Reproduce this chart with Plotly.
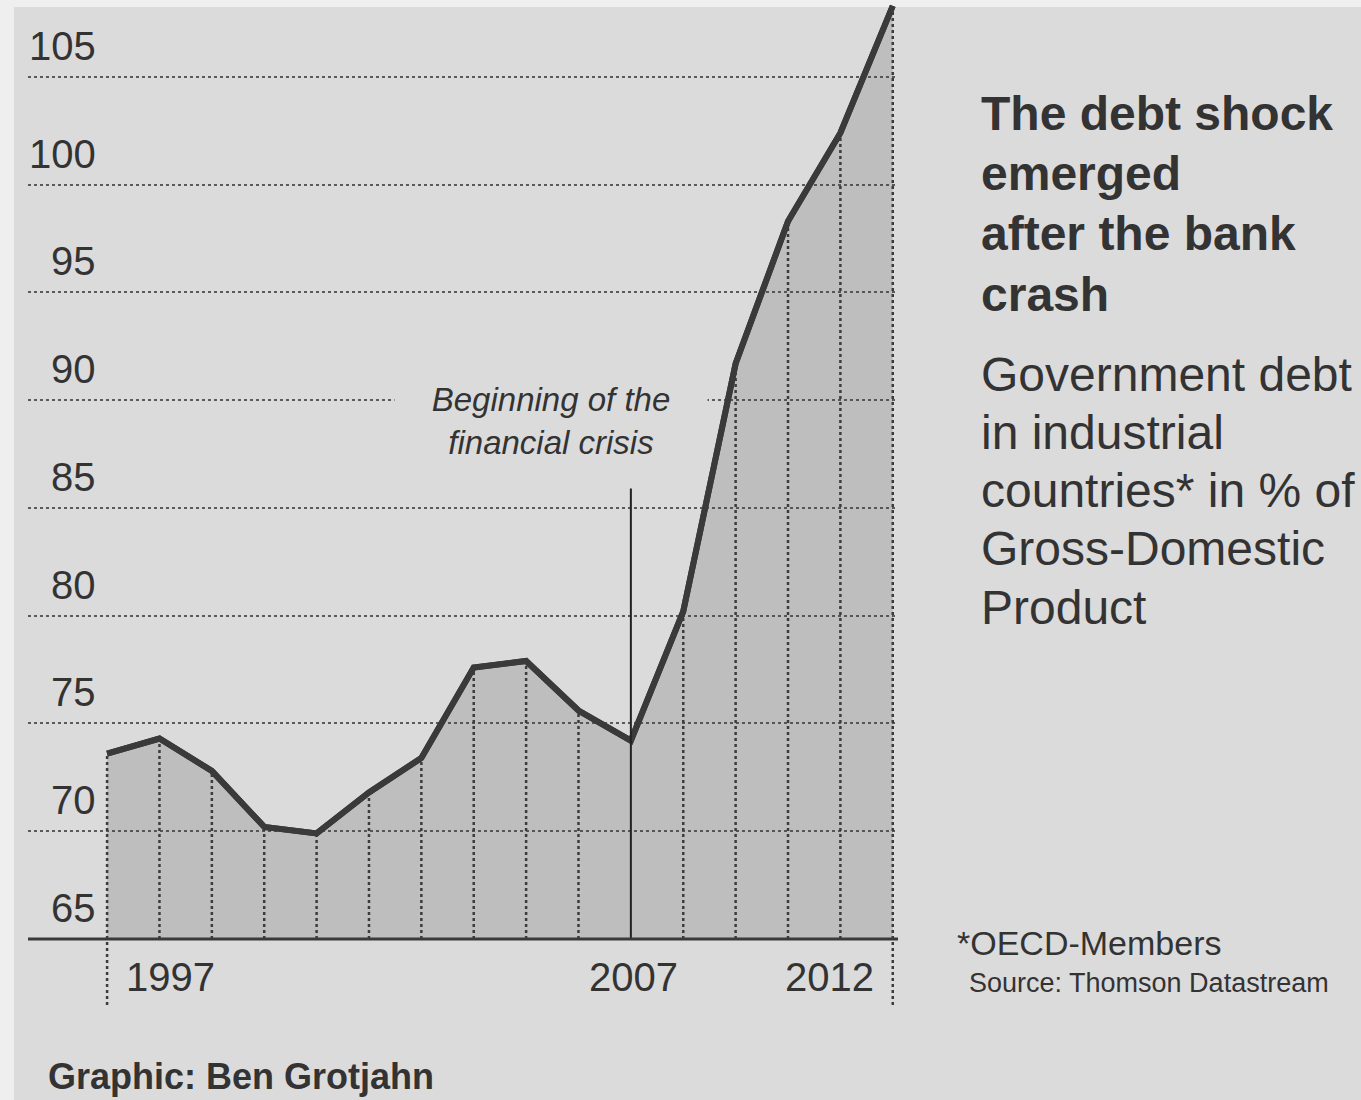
import plotly.graph_objects as go

# ---------------- data ----------------
years = list(range(1997, 2013))
debt = [73.6, 74.3, 72.8, 70.2, 69.9, 71.8, 73.4, 77.6, 77.9, 75.6,
        74.2, 80.2, 91.7, 98.3, 102.4, 108.3]
y_ticks = [65, 70, 75, 80, 85, 90, 95, 100, 105]
x_labels = [1997, 2007, 2012]
crisis_year = 2007
crisis_marker_top = 85.9

title_lines = ["The debt shock", "emerged", "after the bank", "crash"]
subtitle_lines = ["Government debt", "in industrial", "countries* in % of",
                  "Gross-Domestic", "Product"]
footnote = "*OECD-Members"
source = "Source: Thomson Datastream"
credit = "Graphic: Ben Grotjahn"
crisis_text = "Beginning of the<br>financial crisis"

# ---------------- layout geometry ----------------
W, H = 1361, 1100
ML, MR, MT, MB = 28, 463, 0, 90
PW, PH = W - ML - MR, H - MT - MB
X_RANGE = [1995.49, 2012.1]
Y_RANGE = [61.705, 108.57]
BASE = 65
EXT_BOTTOM = 61.94

FONT = "Liberation Sans, Arial, Helvetica, sans-serif"
INK = "#333333"
PAPER = "#dcdbdc"


def px_x(p):
    return (p - ML) / PW


def px_y(p):
    return 1 - (p - MT) / PH


fig = go.Figure()

# paper sheet
fig.add_shape(type="rect", xref="paper", yref="paper",
              x0=px_x(14), x1=px_x(W + 5), y0=px_y(H + 5), y1=px_y(7),
              fillcolor=PAPER, line_width=0, layer="below")

# baseline for filling
fig.add_trace(go.Scatter(x=years, y=[BASE] * len(years), mode="lines",
                         line=dict(width=0, color="rgba(0,0,0,0)"),
                         hoverinfo="skip", showlegend=False))
# filled area + line
fig.add_trace(go.Scatter(x=years, y=debt, mode="lines", fill="tonexty",
                         fillcolor="rgba(70,70,70,0.19)",
                         line=dict(color="#3a3a3a", width=6),
                         showlegend=False))

# vertical dotted lines under the curve
for i, (yr, v) in enumerate(zip(years, debt)):
    if yr == crisis_year:
        continue
    y0 = EXT_BOTTOM if i in (0, len(years) - 1) else BASE
    fig.add_trace(go.Scatter(x=[yr, yr], y=[y0, v], mode="lines",
                             line=dict(color="#3c3c3c", width=2.5, dash="dot"),
                             hoverinfo="skip", showlegend=False))

# data line again on top of the dotted verticals
fig.add_trace(go.Scatter(x=years, y=debt, mode="lines",
                         line=dict(color="#3a3a3a", width=6),
                         hoverinfo="skip", showlegend=False))

# crisis marker line
fig.add_shape(type="line", xref="x", yref="y", x0=crisis_year, x1=crisis_year,
              y0=BASE, y1=crisis_marker_top,
              line=dict(color="#222222", width=2))

# axis baseline
fig.add_shape(type="line", xref="paper", yref="y", x0=0, x1=1, y0=BASE, y1=BASE,
              line=dict(color="#3a3a3a", width=3))

annotations = []

# y tick labels (above grid lines)
for t in y_ticks:
    annotations.append(dict(x=px_x(98), xref="paper", y=t, yref="y",
                            text=str(t), showarrow=False, xanchor="right",
                            yanchor="middle", yshift=31,
                            font=dict(family=FONT, size=40, color=INK)))

# x labels
for yr in x_labels:
    if yr == years[0]:
        anchor, shift = "left", 17
    elif yr == years[-1]:
        anchor, shift = "right", -17
    else:
        anchor, shift = "center", 3
    annotations.append(dict(x=yr, xref="x", y=BASE, yref="y", text=str(yr),
                            showarrow=False, xanchor=anchor, xshift=shift,
                            yanchor="middle", yshift=-38,
                            font=dict(family=FONT, size=40, color=INK)))

# crisis annotation
annotations.append(dict(x=px_x(551), xref="paper", y=px_y(421), yref="paper",
                        text="<i>" + crisis_text + "</i>", showarrow=False,
                        xanchor="center", yanchor="middle", align="center",
                        width=304, borderpad=4, bgcolor=PAPER,
                        font=dict(family=FONT, size=33, color=INK)))

# title lines
for i, line in enumerate(title_lines):
    annotations.append(dict(x=px_x(979), xref="paper", y=px_y(114 + i * 60),
                            yref="paper", text="<b>" + line + "</b>",
                            showarrow=False, xanchor="left", yanchor="middle",
                            font=dict(family=FONT, size=48, color=INK)))

# subtitle lines
for i, line in enumerate(subtitle_lines):
    annotations.append(dict(x=px_x(979), xref="paper", y=px_y(374 + i * 58.3),
                            yref="paper", text=line,
                            showarrow=False, xanchor="left", yanchor="middle",
                            font=dict(family=FONT, size=48, color=INK)))

annotations.append(dict(x=px_x(955), xref="paper", y=px_y(943), yref="paper",
                        text=footnote, showarrow=False, xanchor="left",
                        yanchor="middle",
                        font=dict(family=FONT, size=34, color=INK)))
annotations.append(dict(x=px_x(967), xref="paper", y=px_y(983), yref="paper",
                        text=source, showarrow=False, xanchor="left",
                        yanchor="middle",
                        font=dict(family=FONT, size=27, color=INK)))
annotations.append(dict(x=px_x(46), xref="paper", y=px_y(1076), yref="paper",
                        text="<b>" + credit + "</b>", showarrow=False,
                        xanchor="left", yanchor="middle",
                        font=dict(family=FONT, size=36, color=INK)))

fig.update_layout(
    width=W, height=H,
    margin=dict(l=ML, r=MR, t=MT, b=MB, pad=0),
    paper_bgcolor="#efefef",
    plot_bgcolor="rgba(0,0,0,0)",
    showlegend=False,
    annotations=annotations,
    xaxis=dict(range=X_RANGE, showgrid=False, zeroline=False,
               showticklabels=False, ticks="", showline=False, fixedrange=True),
    yaxis=dict(range=Y_RANGE, tickvals=y_ticks, showticklabels=False,
               ticks="", showgrid=True, gridcolor="#5a5a5a", gridwidth=2,
               griddash="dot", zeroline=False, showline=False, fixedrange=True),
)

fig.write_html("out.html", config={"displayModeBar": False})
